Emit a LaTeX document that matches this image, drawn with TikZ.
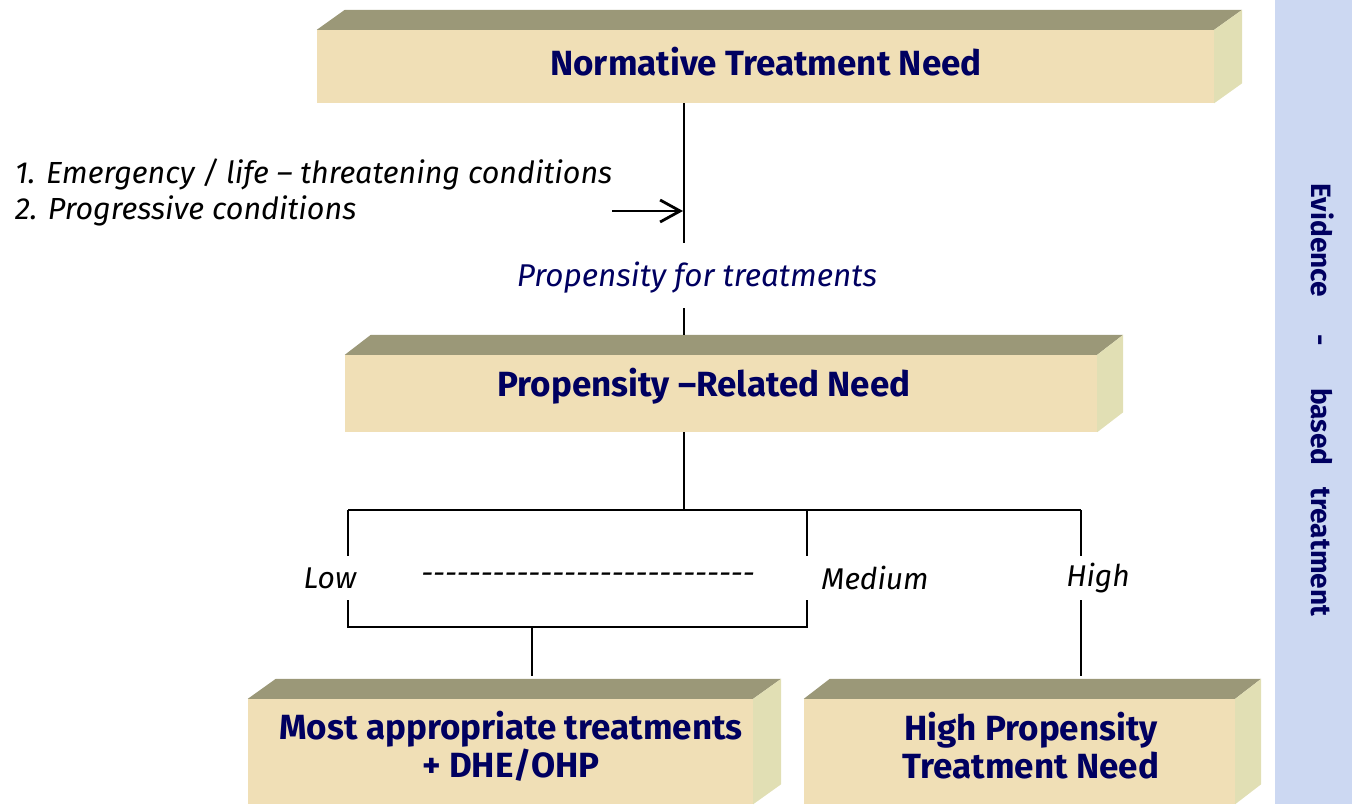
\documentclass[tikz,border=0pt]{standalone}
\usepackage{fontspec}
\usepackage{tikz}
\usetikzlibrary{arrows.meta}
\newfontfamily\boxfont{Fira Sans}
\definecolor{slabtop}{HTML}{9B9878}
\definecolor{slabfront}{HTML}{F0DFB6}
\definecolor{slabside}{HTML}{E1DFB4}
\definecolor{navy}{HTML}{000060}
\definecolor{sidebar}{HTML}{CCD8F2}
\tikzset{
  slab/.style={fill=slabfront,inner sep=0pt},
  slabtext/.style={inner sep=0pt,text=navy,align=center,font=\boxfont\bfseries\fontsize{35}{38}\selectfont},
  item/.style={inner sep=0pt,align=left,font=\boxfont\itshape\fontsize{30.5}{36}\selectfont},
  lvl/.style={inner sep=0pt,font=\boxfont\itshape\fontsize{30}{34}\selectfont},
  link/.style={line width=1.6pt},
}
% top and side faces of a slab
\newcommand\slabfaces[2]{%
  \fill[slabtop] (#1.north west) -- ([shift={(#2,-20)}]#1.north west) -- ([shift={(#2,-20)}]#1.north east) -- (#1.north east) -- cycle;
  \fill[slabside] (#1.north east) -- ([shift={(#2,-20)}]#1.north east) -- ([shift={(#2,-20)}]#1.south east) -- (#1.south east) -- cycle;
}

\begin{document}
\begin{tikzpicture}[x=1pt,y=-1pt]
	\useasboundingbox (0,0) rectangle (1352,804);
	% side bar
	\fill[sidebar] (1275,0) rectangle (1352,804);
	\node[rotate=-90,text=navy,font=\boxfont\bfseries\fontsize{28}{32}\selectfont] (ebt) at (1323,400) {Evidence\hspace{38pt}-\hspace{42pt}based\hspace{22pt}treatment};
	% slabs
	\node[slab,minimum width=897,minimum height=73] (need) at (765.5,66.5) {};
	\slabfaces{need}{28}
	\node[slab,minimum width=752,minimum height=77] (rel) at (721,393.5) {};
	\slabfaces{rel}{26}
	\node[slab,minimum width=505,minimum height=105] (most) at (500.5,751.5) {};
	\slabfaces{most}{28}
	\node[slab,minimum width=431,minimum height=105] (hpt) at (1019.5,751.5) {};
	\slabfaces{hpt}{26}
	\node[slabtext] (needtxt) at (766,62) {Normative Treatment Need};
	\node[slabtext] (reltxt) at (704,386) {Propensity –Related Need};
	\node[slabtext] (mosttxt) at (511,746) {Most appropriate treatments\\+ DHE/OHP};
	\node[slabtext] (hpttxt) at (1031,746) {High Propensity\\Treatment Need};
	% labels
	\node[item,anchor=west] (cond) at (15,192) {1. Emergency / life – threatening conditions\\2. Progressive conditions};
	\node[lvl,text=navy,font=\boxfont\itshape\fontsize{31.5}{34}\selectfont] (prop) at (697,278) {Propensity for treatments};
	\node[lvl] (low) at (330,578) {Low};
	\node[lvl] (dash) at (588,578) {\foreach \k in {1,...,28}{-\kern0pt}};
	\node[lvl] (med) at (875,578) {Medium};
	\node[lvl] (high) at (1098,578) {High};
	% junctions
	\coordinate (t1) at (684,243);
	\coordinate (t2) at (684,308);
	\coordinate (hit) at (683,211);
	\coordinate (from) at (612,211);
	\coordinate (fork) at (684,510);
	\coordinate (lowtop) at (348,510);
	\coordinate (medtop) at (807,510);
	\coordinate (hightop) at (1081,510);
	\coordinate (lowa) at (348,556);
	\coordinate (meda) at (807,556);
	\coordinate (higha) at (1081,556);
	\coordinate (lowb) at (348,600);
	\coordinate (medb) at (807,600);
	\coordinate (highb) at (1081,600);
	\coordinate (lowbot) at (348,627);
	\coordinate (medbot) at (807,627);
	\coordinate (join) at (532,627);
	\coordinate (mostin) at (532,676);
	\coordinate (hptin) at (1081,676);
	% connectors
	\draw[link] (need.south -| t1) -- (t1);
	\draw[line width=2.8pt,-{Straight Barb[length=20pt,width=22pt]}] (from) -- (hit);
	\draw[link] (t2) -- ([yshift=20pt]rel.north -| t2);
	\draw[link] (rel.south -| fork) -- (fork);
	\draw[link] (lowtop) -- (hightop);
	\draw[link] (lowtop) -- (lowa);
	\draw[link] (medtop) -- (meda);
	\draw[link] (hightop) -- (higha);
	\draw[link] (lowb) -- (lowbot) -- (medbot) -- (medb);
	\draw[link] (join) -- (mostin);
	\draw[link] (highb) -- (hptin);
\end{tikzpicture}
\end{document}
